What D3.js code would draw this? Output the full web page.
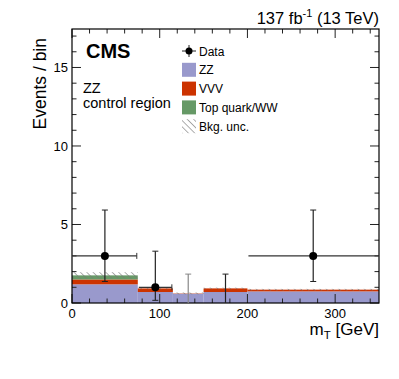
<!DOCTYPE html>
<html>
<head>
<meta charset="utf-8">
<script src="https://cdn.jsdelivr.net/npm/d3@7"></script>
<style>
  body { margin: 0; background: #fff; }
  text { font-family: "Liberation Sans", Arial, sans-serif; }
</style>
</head>
<body>
<div id="chart"></div>
<script>
var svgWidth = 399;
var svgHeight = 379;

var margin = { top: 29, right: 20, bottom: 76, left: 72 };
var width = svgWidth - margin.left - margin.right;
var height = svgHeight - margin.top - margin.bottom;

// bins in GeV
var binEdges = [0, 75, 115, 150, 200, 350];

// stacked backgrounds, events per bin
var zzVals = [1.19, 0.70, 0.59, 0.70, 0.74];
var vvvVals = [0.31, 0.23, 0.02, 0.23, 0.11];
var topVals = [0.26, 0.0, 0.0, 0.0, 0.0];
var bkgUnc = [0.2, 0.05, 0.06, 0.05, 0.05];

// data with asymmetric poisson errors
var dataVals = [3, 1, 0, 0, 3];
var dataUp = [2.92, 2.30, 1.84, 1.84, 2.92];
var dataDown = [1.63, 0.83, 0, 0, 1.63];

var xTicks = [0, 100, 200, 300];
var yTicks = [0, 5, 10, 15];

var svg = d3.select("#chart")
  .append("svg")
  .attr("width", svgWidth)
  .attr("height", svgHeight);

var defs = svg.append("defs");
var hatch = defs.append("pattern")
  .attr("id", "hatch")
  .attr("patternUnits", "userSpaceOnUse")
  .attr("width", 4.5)
  .attr("height", 4.5)
  .attr("patternTransform", "rotate(-45)");
hatch.append("line")
  .attr("x1", 0).attr("y1", 0)
  .attr("x2", 0).attr("y2", 4.5)
  .attr("stroke", "#777")
  .attr("stroke-width", 1.2);

var chartGroup = svg.append("g")
  .attr("transform", `translate(${margin.left}, ${margin.top})`);

var xScale = d3.scaleLinear().domain([0, 350]).range([0, width]);
var yScale = d3.scaleLinear().domain([0, 17.45]).range([height, 0]);

// build bins
var bins = zzVals.map(function(d, i) {
  var zz = zzVals[i], vvv = vvvVals[i], top = topVals[i];
  return {
    x0: binEdges[i], x1: binEdges[i + 1],
    layers: [
      { y0: 0, y1: zz, color: "#9999cc" },
      { y0: zz, y1: zz + vvv, color: "#cc3300" },
      { y0: zz + vvv, y1: zz + vvv + top, color: "#669966" }
    ],
    total: zz + vvv + top,
    unc: bkgUnc[i],
    data: dataVals[i], up: dataUp[i], down: dataDown[i]
  };
});

// stack
bins.forEach(function(b) {
  chartGroup.selectAll(null)
    .data(b.layers.filter(l => l.y1 > l.y0))
    .enter()
    .append("rect")
    .attr("x", xScale(b.x0))
    .attr("width", xScale(b.x1) - xScale(b.x0))
    .attr("y", l => yScale(l.y1))
    .attr("height", l => yScale(l.y0) - yScale(l.y1))
    .attr("fill", l => l.color);
});

// bkg uncertainty band
chartGroup.selectAll(".unc")
  .data(bins)
  .enter()
  .append("rect")
  .attr("class", "unc")
  .attr("x", d => xScale(d.x0))
  .attr("width", d => xScale(d.x1) - xScale(d.x0))
  .attr("y", d => yScale(d.total + d.unc))
  .attr("height", d => yScale(d.total - d.unc) - yScale(d.total + d.unc))
  .attr("fill", "url(#hatch)");

// ticks on all four sides, pointing inward
var tickCol = "#222";
function xTickLines(y, dir) {
  var g = chartGroup.append("g");
  d3.range(0, 351, 20).forEach(function(v) {
    var len = v % 100 === 0 ? 9 : 4.5;
    g.append("line")
      .attr("x1", xScale(v)).attr("x2", xScale(v))
      .attr("y1", y).attr("y2", y + dir * len)
      .attr("stroke", tickCol).attr("stroke-width", 1);
  });
}
function yTickLines(x, dir) {
  var g = chartGroup.append("g");
  d3.range(0, 18, 1).forEach(function(v) {
    var len = v % 5 === 0 ? 9 : 4.5;
    g.append("line")
      .attr("y1", yScale(v)).attr("y2", yScale(v))
      .attr("x1", x).attr("x2", x + dir * len)
      .attr("stroke", tickCol).attr("stroke-width", 1);
  });
}
xTickLines(height, -1);
xTickLines(0, 1);
yTickLines(0, 1);
yTickLines(width, -1);

// frame
chartGroup.append("rect")
  .attr("width", width)
  .attr("height", height)
  .attr("fill", "none")
  .attr("stroke", "#000")
  .attr("stroke-width", 1.2);

// tick labels
chartGroup.selectAll(".xlab")
  .data(xTicks)
  .enter()
  .append("text")
  .attr("x", d => xScale(d))
  .attr("y", height + 15)
  .attr("text-anchor", "middle")
  .attr("font-size", 13)
  .text(d => d);

chartGroup.selectAll(".ylab")
  .data(yTicks)
  .enter()
  .append("text")
  .attr("x", -4)
  .attr("y", d => yScale(d) + 5)
  .attr("text-anchor", "end")
  .attr("font-size", 13)
  .text(d => d);

// data points
var dataGroup = chartGroup.selectAll(".pt")
  .data(bins)
  .enter()
  .append("g")
  .attr("class", "pt");

dataGroup.filter(d => d.data > 0)
  .append("line")
  .attr("x1", d => xScale(d.x0) + 1).attr("x2", d => Math.min(xScale(d.x1) - 1, width))
  .attr("y1", d => yScale(d.data)).attr("y2", d => yScale(d.data))
  .attr("stroke", "#333").attr("stroke-width", 1.2);

dataGroup.filter(d => d.data > 0 && d.x1 < 350)
  .append("line")
  .attr("x1", d => xScale(d.x1) - 1).attr("x2", d => xScale(d.x1) - 1)
  .attr("y1", d => yScale(d.data) - 3).attr("y2", d => yScale(d.data) + 3)
  .attr("stroke", "#333").attr("stroke-width", 1);

dataGroup.append("line")
  .attr("x1", d => xScale((d.x0 + d.x1) / 2)).attr("x2", d => xScale((d.x0 + d.x1) / 2))
  .attr("y1", d => yScale(d.data + d.up)).attr("y2", d => yScale(d.data - d.down))
  .attr("stroke", (d, i) => i === 2 ? "#888" : "#222").attr("stroke-width", 1.2);

// caps on vertical bars
dataGroup.each(function(d, i) {
  var cx = xScale((d.x0 + d.x1) / 2);
  var g = d3.select(this);
  var col = i === 2 ? "#888" : "#222";
  [d.data + d.up, d.data - d.down].forEach(function(v) {
    if (v <= 0) return;
    g.append("line")
      .attr("x1", cx - 3).attr("x2", cx + 3)
      .attr("y1", yScale(v)).attr("y2", yScale(v))
      .attr("stroke", col).attr("stroke-width", 1);
  });
});

dataGroup.filter(d => d.data > 0)
  .append("circle")
  .attr("cx", d => xScale((d.x0 + d.x1) / 2))
  .attr("cy", d => yScale(d.data))
  .attr("r", 4)
  .attr("fill", "#000");

// CMS label and region text
chartGroup.append("text")
  .attr("x", 14).attr("y", 29)
  .attr("font-size", 20).attr("font-weight", "bold")
  .text("CMS");
chartGroup.append("text")
  .attr("x", 11).attr("y", 64)
  .attr("font-size", 14.5)
  .text("ZZ");
chartGroup.append("text")
  .attr("x", 11).attr("y", 79)
  .attr("font-size", 14.5)
  .text("control region");

// legend
var legendItems = ["Data", "ZZ", "VVV", "Top quark/WW", "Bkg. unc."];
var legendColors = [null, "#9999cc", "#cc3300", "#669966", "url(#hatch)"];
var legend = chartGroup.append("g")
  .attr("transform", "translate(110, 22)");
legendItems.forEach(function(name, i) {
  var y = i * 18.8;
  if (i === 0) {
    legend.append("line")
      .attr("x1", 0).attr("x2", 14).attr("y1", y).attr("y2", y)
      .attr("stroke", "#222");
    legend.append("line")
      .attr("x1", 7).attr("x2", 7).attr("y1", y - 6).attr("y2", y + 6)
      .attr("stroke", "#222");
    legend.append("circle")
      .attr("cx", 7).attr("cy", y).attr("r", 3.5).attr("fill", "#000");
  } else {
    legend.append("rect")
      .attr("x", 0).attr("y", y - 7)
      .attr("width", 14).attr("height", 14)
      .attr("fill", legendColors[i]);
  }
  legend.append("text")
    .attr("x", 17).attr("y", y + 4.5)
    .attr("font-size", 12)
    .text(name);
});

// lumi label
var lumi = svg.append("text")
  .attr("x", margin.left + width)
  .attr("y", 24)
  .attr("text-anchor", "end")
  .attr("font-size", 16.5);
lumi.append("tspan").text("137 fb");
lumi.append("tspan").attr("dy", -7).attr("font-size", 11).text("-1");
lumi.append("tspan").attr("dy", 7).text(" (13 TeV)");

// axis titles
var xt = svg.append("text")
  .attr("x", margin.left + width)
  .attr("y", 335)
  .attr("text-anchor", "end")
  .attr("font-size", 17);
xt.append("tspan").text("m");
xt.append("tspan").attr("dy", 4).attr("font-size", 11.5).text("T");
xt.append("tspan").attr("dy", -4).text(" [GeV]");

svg.append("text")
  .attr("transform", "translate(46, 38) rotate(-90)")
  .attr("text-anchor", "end")
  .attr("font-size", 17.5)
  .text("Events / bin");
</script>
</body>
</html>
